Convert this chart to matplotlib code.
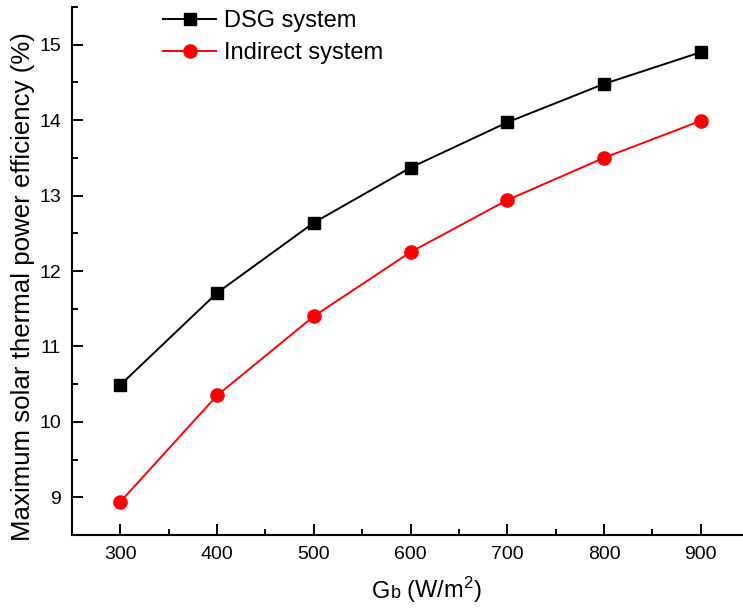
import matplotlib
matplotlib.use("Agg")
import matplotlib.pyplot as plt
from matplotlib.ticker import MultipleLocator
from matplotlib.offsetbox import TextArea, HPacker, AnchoredOffsetbox

plt.rcParams['font.family'] = ['Liberation Sans', 'DejaVu Sans']
plt.rcParams['mathtext.fontset'] = 'custom'
plt.rcParams['mathtext.rm'] = 'Liberation Sans'

gb = [300, 400, 500, 600, 700, 800, 900]
dsg = [10.49, 11.71, 12.64, 13.37, 13.97, 14.48, 14.90]
indirect = [8.94, 10.35, 11.40, 12.25, 12.94, 13.50, 13.99]
series_names = ["DSG system", "Indirect system"]
xticks = [300, 400, 500, 600, 700, 800, 900]
yticks = [9, 10, 11, 12, 13, 14, 15]

fig = plt.figure(figsize=(7.43, 6.13), dpi=100)
ax = fig.add_axes([0.0969, 0.1272, 0.9021, 0.8614])

ax.plot(gb, dsg, color='black', lw=1.4, marker='s', markersize=8, label=series_names[0])
ax.plot(gb, indirect, color='#ff0000', lw=1.4, marker='o', markersize=9.5, label=series_names[1])

ax.set_xlim(250, 943)
ax.set_ylim(8.5, 15.5)
ax.set_xticks(xticks)
ax.set_yticks(yticks)
ax.xaxis.set_minor_locator(MultipleLocator(50))
ax.yaxis.set_minor_locator(MultipleLocator(0.5))
ax.tick_params(which='major', direction='in', length=8, width=1.4, labelsize=14, pad=8)
ax.tick_params(which='minor', direction='in', length=4.5, width=1.4)
for s in ['top', 'right']:
    ax.spines[s].set_visible(False)
for s in ['left', 'bottom']:
    ax.spines[s].set_linewidth(1.5)

# x label: "Gb (W/m2)" with a smaller baseline "b"
parts = HPacker(children=[
    TextArea("G", textprops=dict(fontsize=17)),
    TextArea("b", textprops=dict(fontsize=13)),
    TextArea(r" (W/m$\mathregular{^2}$)", textprops=dict(fontsize=17)),
], align="baseline", pad=0, sep=0)
box = AnchoredOffsetbox(loc='center', child=parts, frameon=False, pad=0, borderpad=0,
                        bbox_to_anchor=(427 / 743, 1 - 590 / 613),
                        bbox_transform=fig.transFigure)
fig.add_artist(box)

fig.text(23 / 743, 1 - 287 / 613, 'Maximum solar thermal power efficiency (%)',
         rotation=90, ha='center', va='center', fontsize=18.6)

ax.legend(loc='upper left', bbox_to_anchor=(0.1216, 1.012), frameon=False, fontsize=17,
          handlelength=2.25, handletextpad=0.35, labelspacing=0.43, borderaxespad=0)

fig.savefig('out.png', dpi=100)
